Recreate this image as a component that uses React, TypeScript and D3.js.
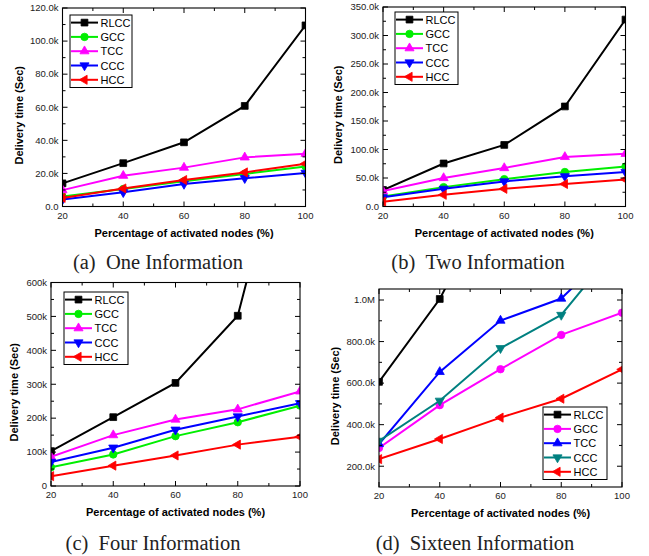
import React from "react";
import * as d3 from "d3";

// x axis: percentage of activated nodes
const xValues = [20, 40, 60, 80, 100];
const xTicks = [20, 40, 60, 80, 100];
const xTickLabels = ["20", "40", "60", "80", "100"];

const seriesNames = ["RLCC", "GCC", "TCC", "CCC", "HCC"];

// (a) One Information, delivery time in k sec
const oneRLCC = [14, 26.2, 38.8, 60.8, 109.5];
const oneGCC = [6, 10.6, 15.2, 19.7, 24.2];
const oneTCC = [9.9, 18.6, 23.5, 29.7, 31.9];
const oneCCC = [4.3, 8.6, 13.6, 17.1, 20.3];
const oneHCC = [5.2, 10.9, 16, 20.6, 25.9];
const oneYTicks = [0, 20, 40, 60, 80, 100, 120];
const oneYLabels = ["0.0", "20.0k", "40.0k", "60.0k", "80.0k", "100.0k", "120.0k"];

// (b) Two Information
const twoRLCC = [29, 75.5, 108, 175.5, 328];
const twoGCC = [17.5, 34, 48, 60.5, 70];
const twoTCC = [27, 50, 67.5, 87, 92.5];
const twoCCC = [16, 31, 44, 53, 60.5];
const twoHCC = [8.5, 20.5, 31, 39.5, 47.5];
const twoYTicks = [0, 50, 100, 150, 200, 250, 300, 350];
const twoYLabels = ["0.0", "50.0k", "100.0k", "150.0k", "200.0k", "250.0k", "300.0k", "350.0k"];

// (c) Four Information
const fourRLCC = [103, 203, 304, 502, 1210];
const fourGCC = [55, 93, 147, 188, 237];
const fourTCC = [86, 150, 196, 226, 279];
const fourCCC = [71, 113, 166, 205, 244];
const fourHCC = [29, 60, 90, 122, 145];
const fourYTicks = [0, 100, 200, 300, 400, 500, 600];
const fourYLabels = ["0", "100k", "200k", "300k", "400k", "500k", "600k"];

// (d) Sixteen Information
const sixteenRLCC = [606, 1005, 1570, 2150, 2800];
const sixteenGCC = [288, 494, 667, 832, 939];
const sixteenTCC = [307, 654, 901, 1007, 1290];
const sixteenCCC = [322, 515, 768, 928, 1285];
const sixteenHCC = [234, 331, 434, 525, 666];
const sixteenYTicks = [200, 400, 600, 800, 1000];
const sixteenYLabels = ["200.0k", "400.0k", "600.0k", "800.0k", "1.0M"];

type Shape = "square" | "circle" | "up" | "down" | "left";
type Series = { name: string; values: number[]; color: string; shape: Shape };

const FONT = "'Liberation Sans', Arial, sans-serif";

function markerPath(shape: Shape) {
  if (shape === "square") return d3.symbol(d3.symbolSquare, 46)()!;
  if (shape === "circle") return d3.symbol(d3.symbolCircle, 44)()!;
  return d3.symbol(d3.symbolTriangle, 36)()!;
}

function markerRotate(shape: Shape) {
  if (shape === "down") return 180;
  if (shape === "left") return -90;
  return 0;
}

function Marker({ x, y, s }: { x: number; y: number; s: Series }) {
  return (
    <path
      d={markerPath(s.shape)}
      transform={`translate(${x},${y}) rotate(${markerRotate(s.shape)})`}
      fill={s.color}
      stroke={s.color}
      strokeWidth={0.8}
    />
  );
}

type PanelProps = {
  id: string;
  left: number;
  right: number;
  top: number;
  bottom: number;
  yDomain: [number, number];
  yTicks: number[];
  yLabels: string[];
  series: Series[];
  legend: { x: number; y: number; w: number };
  titleX: number;
  caption: string;
  captionX: number;
  captionY: number;
};

function Panel(p: PanelProps) {
  const x = d3.scaleLinear().domain([20, 100]).range([p.left, p.right]);
  const y = d3.scaleLinear().domain(p.yDomain).range([p.bottom, p.top]);
  const xMinor = xTicks.slice(0, -1).map((t, i) => (t + xTicks[i + 1]) / 2);
  const step = p.yTicks[1] - p.yTicks[0];
  const yMinor = d3
    .range(p.yTicks[0] - step / 2, p.yDomain[1], step)
    .filter((v) => v > p.yDomain[0] && v < p.yDomain[1]);
  const line = d3
    .line<number>()
    .x((_, i) => x(xValues[i]))
    .y((d) => y(d));
  const rowH = 14.3;
  const legendH = rowH * p.series.length + 1;

  return (
    <g>
      <defs>
        <clipPath id={p.id}>
          <rect x={p.left} y={p.top} width={p.right - p.left} height={p.bottom - p.top} />
        </clipPath>
      </defs>
      <g clipPath={`url(#${p.id})`}>
        {p.series.map((s) => (
          <g key={s.name}>
            <path d={line(s.values)!} fill="none" stroke={s.color} strokeWidth={2} />
            {s.values.map((v, i) => (
              <Marker key={i} x={x(xValues[i])} y={y(v)} s={s} />
            ))}
          </g>
        ))}
      </g>
      <rect
        x={p.left}
        y={p.top}
        width={p.right - p.left}
        height={p.bottom - p.top}
        fill="none"
        stroke="#000"
        strokeWidth={1.1}
      />
      {/* ticks inward on all four sides */}
      {xTicks.map((t, i) => (
        <g key={"x" + t}>
          <line x1={x(t)} x2={x(t)} y1={p.bottom} y2={p.bottom - 5} stroke="#000" />
          <line x1={x(t)} x2={x(t)} y1={p.top} y2={p.top + 5} stroke="#000" />
          <text
            x={x(t)}
            y={p.bottom + 12}
            textAnchor="middle"
            fontFamily={FONT}
            fontSize={9.5}
            fill="#222"
          >
            {xTickLabels[i]}
          </text>
        </g>
      ))}
      {xMinor.map((t) => (
        <g key={"xm" + t}>
          <line x1={x(t)} x2={x(t)} y1={p.bottom} y2={p.bottom - 3} stroke="#000" />
          <line x1={x(t)} x2={x(t)} y1={p.top} y2={p.top + 3} stroke="#000" />
        </g>
      ))}
      {p.yTicks.map((t, i) => (
        <g key={"y" + t}>
          <line x1={p.left} x2={p.left + 5} y1={y(t)} y2={y(t)} stroke="#000" />
          <line x1={p.right} x2={p.right - 5} y1={y(t)} y2={y(t)} stroke="#000" />
          <text
            x={p.left - 4}
            y={y(t) + 3.3}
            textAnchor="end"
            fontFamily={FONT}
            fontSize={9.5}
            fill="#222"
          >
            {p.yLabels[i]}
          </text>
        </g>
      ))}
      {yMinor.map((t) => (
        <g key={"ym" + t}>
          <line x1={p.left} x2={p.left + 3} y1={y(t)} y2={y(t)} stroke="#000" />
          <line x1={p.right} x2={p.right - 3} y1={y(t)} y2={y(t)} stroke="#000" />
        </g>
      ))}
      <text
        x={(p.left + p.right) / 2}
        y={p.bottom + 30}
        textAnchor="middle"
        fontFamily={FONT}
        fontWeight="bold"
        fontSize={11}
      >
        Percentage of activated nodes (%)
      </text>
      <text
        transform={`translate(${p.titleX},${(p.top + p.bottom) / 2 + 8}) rotate(-90)`}
        textAnchor="middle"
        fontFamily={FONT}
        fontWeight="bold"
        fontSize={11}
      >
        Delivery time (Sec)
      </text>
      {/* legend */}
      <g transform={`translate(${p.legend.x},${p.legend.y})`}>
        <rect width={p.legend.w} height={legendH} fill="#fff" stroke="#000" strokeWidth={1} />
        {p.series.map((s, i) => {
          const ry = 7.6 + i * rowH;
          return (
            <g key={s.name}>
              <line x1={1} x2={28} y1={ry} y2={ry} stroke={s.color} strokeWidth={2} />
              <Marker x={14.5} y={ry} s={s} />
              <text x={30.5} y={ry + 4} fontFamily={FONT} fontSize={11}>
                {s.name}
              </text>
            </g>
          );
        })}
      </g>
      <text
        x={p.captionX}
        y={p.captionY}
        textAnchor="middle"
        fontFamily="'Liberation Serif', 'Times New Roman', serif"
        fontSize={20.5}
        fill="#222"
      >
        {p.caption}
      </text>
    </g>
  );
}

const colorsMain = ["#000000", "#00ee00", "#ff00ff", "#0000ff", "#ff0000"];
const colorsSixteen = ["#000000", "#ff00ff", "#0000ff", "#008080", "#ff0000"];
const shapes: Shape[] = ["square", "circle", "up", "down", "left"];

function build(values: number[][], colors: string[]): Series[] {
  return seriesNames.map((name, i) => ({ name, values: values[i], color: colors[i], shape: shapes[i] }));
}

export default function App() {
  const one = build([oneRLCC, oneGCC, oneTCC, oneCCC, oneHCC], colorsMain);
  const two = build([twoRLCC, twoGCC, twoTCC, twoCCC, twoHCC], colorsMain);
  const four = build([fourRLCC, fourGCC, fourTCC, fourCCC, fourHCC], colorsMain);
  const sixteen = build(
    [sixteenRLCC, sixteenGCC, sixteenTCC, sixteenCCC, sixteenHCC],
    colorsSixteen
  );
  return (
    <svg
      width={649}
      height={556}
      style={{ position: "absolute", left: 0, top: 0, background: "#fff" }}
    >
      <Panel
        id="clipA"
        left={62.5}
        right={305.5}
        top={8}
        bottom={206.5}
        yDomain={[0, 120]}
        yTicks={oneYTicks}
        yLabels={oneYLabels}
        series={one}
        legend={{ x: 70, y: 15, w: 62 }}
        titleX={23}
        caption={"(a)\u00a0\u00a0One Information"}
        captionX={158}
        captionY={269}
      />
      <Panel
        id="clipB"
        left={383}
        right={625.5}
        top={7}
        bottom={206.5}
        yDomain={[0, 350]}
        yTicks={twoYTicks}
        yLabels={twoYLabels}
        series={two}
        legend={{ x: 395, y: 12, w: 63 }}
        titleX={342}
        caption={"(b)\u00a0\u00a0Two Information"}
        captionX={478}
        captionY={269}
      />
      <Panel
        id="clipC"
        left={51}
        right={300}
        top={282.5}
        bottom={486}
        yDomain={[0, 600]}
        yTicks={fourYTicks}
        yLabels={fourYLabels}
        series={four}
        legend={{ x: 64, y: 292, w: 64 }}
        titleX={18}
        caption={"(c)\u00a0\u00a0Four Information"}
        captionX={153}
        captionY={550}
      />
      <Panel
        id="clipD"
        left={379}
        right={622}
        top={289}
        bottom={487}
        yDomain={[100, 1053]}
        yTicks={sixteenYTicks}
        yLabels={sixteenYLabels}
        series={sixteen}
        legend={{ x: 543, y: 407, w: 64 }}
        titleX={339}
        caption={"(d)\u00a0\u00a0Sixteen Information"}
        captionX={475}
        captionY={550}
      />
    </svg>
  );
}
